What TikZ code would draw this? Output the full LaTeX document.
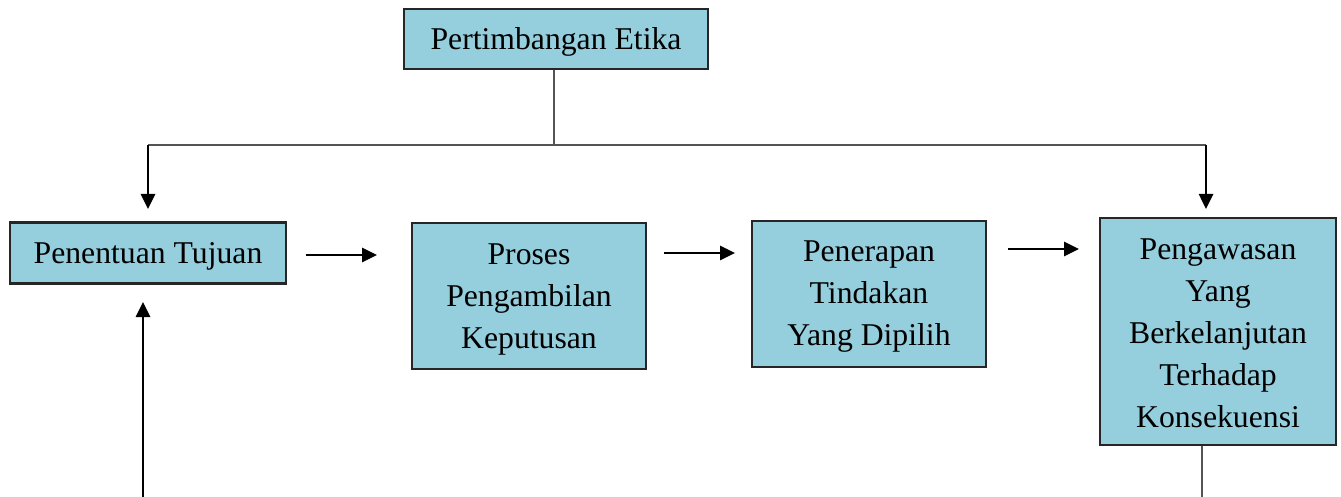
\documentclass[tikz,border=0pt]{standalone}
\usepackage{fontspec}
\setmainfont{Liberation Serif}
\usetikzlibrary{arrows.meta}
\definecolor{boxfill}{RGB}{149,206,220}
\definecolor{linegray}{RGB}{85,85,85}
\begin{document}
\begin{tikzpicture}[x=1pt,y=-1pt,
  box/.style={draw=black!85, line width=2.4pt, fill=boxfill, inner sep=0pt},
  txt/.style={align=center, inner sep=0pt, font=\fontsize{31.7}{42}\selectfont},
  arr/.style={line width=2.6pt, -{Triangle[length=15pt,width=14pt]}},
  conn/.style={draw=linegray, line width=1.8pt}]
\useasboundingbox (0,0) rectangle (1341,497);
\node[box, minimum width=304pt, minimum height=60pt] (pe) at (556,39) {};
\node[box, minimum width=276pt, minimum height=61pt] (pt) at (148,253) {};
\node[box, minimum width=234pt, minimum height=146pt] (pk) at (529,296) {};
\node[box, minimum width=234pt, minimum height=146pt] (tp) at (869,294) {};
\node[box, minimum width=236pt, minimum height=227pt] (pw) at (1218,331.5) {};
\node[txt] (pe-t) at ([yshift=-3pt]pe.center) {Pertimbangan Etika};
\node[txt] (pt-t) at ([yshift=-3pt]pt.center) {Penentuan Tujuan};
\node[txt] (pk-t) at ([yshift=-3pt]pk.center) {Proses\\Pengambilan\\Keputusan};
\node[txt] (tp-t) at ([yshift=-3pt]tp.center) {Penerapan\\Tindakan\\Yang Dipilih};
\node[txt] (pw-t) at ([yshift=-2pt]pw.center) {Pengawasan\\Yang\\Berkelanjutan\\Terhadap\\Konsekuensi};
\coordinate (j) at (554,145);
\coordinate (jl) at (148,145);
\coordinate (jr) at (1206,145);
\coordinate (al) at (148,209);
\coordinate (ar) at (1206,209);
\coordinate (a1s) at (306,255);
\coordinate (a1e) at (377,255);
\coordinate (a2s) at (664,253);
\coordinate (a2e) at (735,253);
\coordinate (a3s) at (1008,249);
\coordinate (a3e) at (1079,249);
\coordinate (ub) at (143,497);
\coordinate (ut) at (143,302);
\coordinate (bb) at (1202,497);
\draw[conn] (pe.south -| j) -- (j);
\draw[conn] (jl) -- (jr);
\draw[arr] (jl) -- (al);
\draw[arr] (jr) -- (ar);
\draw[arr] (a1s) -- (a1e);
\draw[arr] (a2s) -- (a2e);
\draw[arr] (a3s) -- (a3e);
\draw[arr] (ub) -- (ut);
\draw[conn] (pw.south -| bb) -- (bb);
\end{tikzpicture}
\end{document}
